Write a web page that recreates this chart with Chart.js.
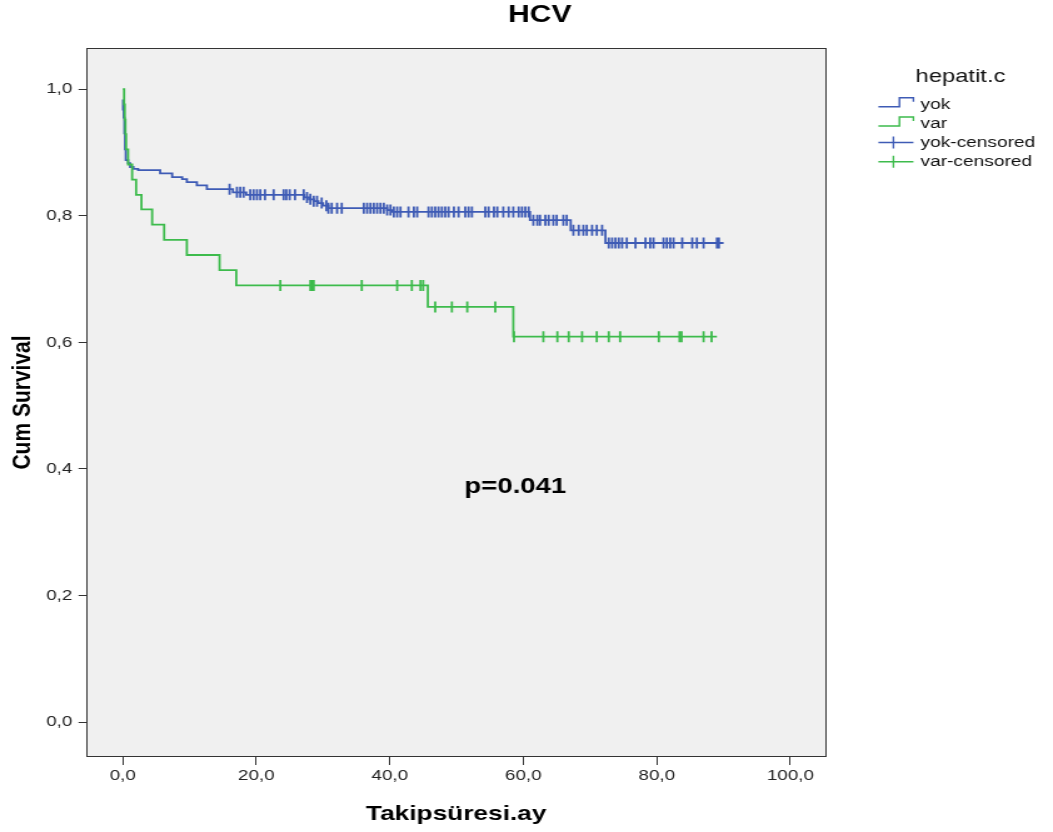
<!DOCTYPE html>
<html><head><meta charset="utf-8">
<script src="https://cdn.jsdelivr.net/npm/chart.js@4/dist/chart.umd.min.js"></script>
<style>html,body{margin:0;padding:0;background:#fff;overflow:hidden}canvas{display:block}</style>
</head><body>
<canvas id="c" width="842" height="832" style="width:1053px;height:832px"></canvas>
<script>
const chartTitle = 'HCV';
const xAxisTitle = 'Takipsüresi.ay';
const yAxisTitle = 'Cum Survival';
const legendTitle = 'hepatit.c';
const seriesNames = ['yok', 'var', 'yok-censored', 'var-censored'];
const xTicks = [0, 20, 40, 60, 80, 100];
const yTicks = [0, 0.2, 0.4, 0.6, 0.8, 1.0];
const pValueText = 'p=0.041';
const pValuePos = [58.8, 0.372];

const yokTime = [0, 0.15, 0.25, 0.35, 0.45, 0.8, 1.1, 1.6, 2.3, 5.6, 7.4, 8.9, 9.6, 11.1, 12.6, 16.5, 18.5, 27.2, 27.9, 28.6, 29.3, 30.0, 30.8, 39.6, 40.4, 61.0, 67.1, 72.3, 90.0];
const yokSurv = [0.975, 0.955, 0.93, 0.905, 0.888, 0.883, 0.877, 0.874, 0.872, 0.867, 0.861, 0.858, 0.853, 0.848, 0.842, 0.837, 0.833, 0.829, 0.826, 0.823, 0.820, 0.816, 0.812, 0.809, 0.806, 0.793, 0.777, 0.757, 0.757];
const yokCensored = [0.05, 16.0, 17.1, 17.6, 18.1, 19.1, 19.6, 20.1, 20.6, 21.3, 22.6, 24.1, 24.5, 25.0, 25.8, 27.1, 27.6, 28.1, 28.6, 29.1, 29.8, 30.5, 30.8, 31.3, 32.1, 32.8, 36.1, 36.6, 37.1, 37.6, 38.1, 38.6, 39.1, 39.6, 40.1, 40.6, 41.1, 41.6, 42.8, 43.6, 44.1, 45.8, 46.3, 46.8, 47.3, 47.8, 48.3, 48.8, 49.6, 50.3, 51.3, 51.8, 52.3, 54.3, 54.8, 55.6, 56.1, 57.0, 57.8, 58.5, 59.3, 59.8, 60.3, 60.8, 61.5, 62.1, 62.5, 63.3, 63.8, 64.5, 65.0, 66.0, 66.5, 67.5, 68.3, 69.0, 69.5, 70.3, 71.0, 71.8, 72.8, 73.3, 73.8, 74.3, 74.8, 75.5, 76.8, 78.3, 79.0, 79.5, 81.0, 81.5, 82.0, 82.5, 83.8, 85.3, 86.0, 87.0, 89.0, 89.3];

const varTime = [0, 0.2, 0.3, 0.4, 0.5, 0.8, 1.4, 2.0, 2.8, 4.4, 6.2, 9.6, 14.5, 17.0, 45.7, 58.5, 89.0];
const varSurv = [1.0, 0.976, 0.952, 0.929, 0.905, 0.881, 0.857, 0.833, 0.810, 0.786, 0.762, 0.738, 0.714, 0.690, 0.656, 0.609, 0.609];
const varCensored = [23.6, 28.1, 28.3, 28.6, 35.8, 41.1, 43.3, 44.6, 45.0, 46.8, 49.3, 51.6, 55.8, 58.6, 63.0, 65.1, 66.8, 68.8, 71.0, 72.8, 74.5, 80.3, 83.4, 83.7, 87.0, 88.2];

const blue = '#3e5bb5';
const green = '#3dbb4c';
const FONT = "'Liberation Sans', Arial, sans-serif";

function survAt(times, surv, t) {
  let s = surv[0];
  for (let i = 0; i < times.length; i++) if (times[i] <= t) s = surv[i];
  return s;
}
const toPts = (xs, ys) => xs.map((x, i) => ({x, y: ys[i]}));
const censorPts = (cs, times, surv) => cs.map(t => ({x: t, y: survAt(times, surv, t)}));
const fmt = v => Number(v).toFixed(1).replace('.', ',');

const decor = {
  id: 'decor',
  beforeDraw(chart) {
    const {ctx, chartArea: a} = chart;
    ctx.save();
    ctx.fillStyle = '#f0f0f0';
    ctx.fillRect(a.left, a.top, a.right - a.left, a.bottom - a.top);
    ctx.restore();
  },
  afterDraw(chart) {
    const {ctx, chartArea: a, scales} = chart;
    ctx.save();
    ctx.strokeStyle = '#333';
    ctx.lineWidth = 1;
    ctx.strokeRect(Math.round(a.left) + 0.5, Math.round(a.top) + 0.5, Math.round(a.right - a.left) - 1, Math.round(a.bottom - a.top) - 1);
    ctx.fillStyle = '#000';
    ctx.textAlign = 'center';
    ctx.textBaseline = 'alphabetic';
    ctx.font = `bold 24px ${FONT}`;
    ctx.fillText(chartTitle, 431.6, 21.7);
    ctx.font = `bold 22px ${FONT}`;
    ctx.textBaseline = 'middle';
    ctx.fillText(pValueText, scales.x.getPixelForValue(pValuePos[0]), scales.y.getPixelForValue(pValuePos[1]));
    // legend
    ctx.textBaseline = 'alphabetic';
    ctx.font = `19px ${FONT}`;
    ctx.fillStyle = '#111';
    ctx.fillText(legendTitle, 768, 81.7);
    ctx.textAlign = 'left';
    ctx.font = `15.3px ${FONT}`;
    const colors = [blue, green, blue, green];
    const rowY = [104.3, 123.5, 142.5, 161.7];
    const x0 = 702.4, x1 = 730.4, xs = 719.2, xc = 714.4;
    for (let i = 0; i < 4; i++) {
      const y = rowY[i];
      ctx.strokeStyle = colors[i];
      ctx.lineWidth = 1.4;
      ctx.beginPath();
      if (i < 2) {
        ctx.moveTo(x0, y + 2.5); ctx.lineTo(xs, y + 2.5); ctx.lineTo(xs, y - 6.5);
        ctx.lineTo(x1, y - 6.5); ctx.lineTo(x1, y - 2.5);
      } else {
        ctx.moveTo(x0, y); ctx.lineTo(x1, y);
        ctx.moveTo(xc, y - 6); ctx.lineTo(xc, y + 6);
      }
      ctx.stroke();
      ctx.fillStyle = '#111';
      ctx.fillText(seriesNames[i], 736, y + 4.2);
    }
    ctx.restore();
  }
};

new Chart(document.getElementById('c'), {
  type: 'line',
  data: {
    datasets: [
      {label: seriesNames[1], data: toPts(varTime, varSurv), borderColor: green, borderWidth: 1.8, stepped: true, pointRadius: 0, fill: false},
      {label: seriesNames[0], data: toPts(yokTime, yokSurv), borderColor: blue, borderWidth: 1.8, stepped: true, pointRadius: 0, fill: false},
      {label: seriesNames[3], data: censorPts(varCensored, varTime, varSurv), showLine: false, pointStyle: 'line', rotation: 90, pointRadius: 5.5, pointBorderColor: green, pointBorderWidth: 1.8, borderColor: green},
      {label: seriesNames[2], data: censorPts(yokCensored, yokTime, yokSurv), showLine: false, pointStyle: 'line', rotation: 90, pointRadius: 5.5, pointBorderColor: blue, pointBorderWidth: 1.8, borderColor: blue}
    ]
  },
  options: {
    responsive: false,
    animation: false,
    devicePixelRatio: 1,
    events: [],
    layout: {padding: {left: 0, right: 181.2, top: 48, bottom: 0}},
    plugins: {legend: {display: false}, tooltip: {enabled: false}, title: {display: false}},
    scales: {
      x: {
        type: 'linear', min: -5.5, max: 105.4,
        afterBuildTicks: s => { s.ticks = xTicks.map(v => ({value: v})); },
        afterFit: s => { s.height = 75; },
        grid: {display: true, drawOnChartArea: false, drawTicks: true, tickLength: 8, color: '#333', lineWidth: 1},
        border: {display: false},
        ticks: {color: '#222', padding: 2, font: {family: FONT, size: 15}, callback: v => fmt(v), maxRotation: 0},
        title: {display: true, text: xAxisTitle, color: '#000', font: {family: FONT, size: 21, weight: 'bold'}, padding: {top: 0, bottom: 5}}
      },
      y: {
        type: 'linear', min: -0.055, max: 1.065,
        afterBuildTicks: s => { s.ticks = yTicks.map(v => ({value: v})); },
        afterFit: s => { s.width = 68.8; },
        grid: {display: true, drawOnChartArea: false, drawTicks: true, tickLength: 6, color: '#333', lineWidth: 1},
        border: {display: false},
        ticks: {color: '#222', padding: 5, font: {family: FONT, size: 15}, callback: v => fmt(v)},
        title: {display: true, text: yAxisTitle, color: '#000', font: {family: FONT, size: 21, weight: 'bold'}, padding: {top: 5.4, bottom: 0}}
      }
    }
  },
  plugins: [decor]
});
</script>
</body></html>
